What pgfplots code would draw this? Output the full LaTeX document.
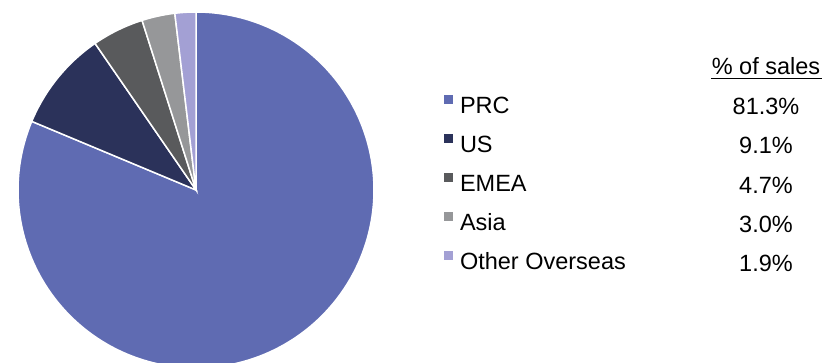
\documentclass[border=0pt]{standalone}
\usepackage{pgfplots}
\pgfplotsset{compat=1.18}
\usepackage{fontspec}
\setmainfont{Liberation Sans}
\definecolor{cPRC}{RGB}{95,107,178}
\definecolor{cUS}{RGB}{43,50,90}
\definecolor{cEMEA}{RGB}{89,90,92}
\definecolor{cAsia}{RGB}{150,151,153}
\definecolor{cOther}{RGB}{163,160,212}
% shares of sales (%)
\def\vPRC{81.3}
\def\vUS{9.1}
\def\vEMEA{4.7}
\def\vAsia{3.0}
\def\vOther{1.9}
\pgfmathsetmacro\aA{90-\vPRC*3.6}
\pgfmathsetmacro\aB{\aA-\vUS*3.6}
\pgfmathsetmacro\aC{\aB-\vEMEA*3.6}
\pgfmathsetmacro\aD{\aC-\vAsia*3.6}
\pgfmathsetmacro\aE{\aD-\vOther*3.6}
\begin{document}
\begin{tikzpicture}[x=1pt,y=1pt]
\useasboundingbox (0,0) rectangle (825,362);
\clip (0,0) rectangle (825,362);
\begin{axis}[
  at={(196pt,172pt)}, anchor=center,
  width=356pt, height=356pt, scale only axis,
  xmin=-1, xmax=1, ymin=-1, ymax=1,
  hide axis, clip=false,
  legend cell align=left,
  legend image code/.code={\fill[#1,draw=none] (0pt,3pt) rectangle (9.4pt,12.4pt);},
  legend style={at={(1.19663,0.7677)}, anchor=north west, draw=none, fill=none,
    inner sep=0pt, outer sep=0pt, row sep=15.7pt, column sep=6.6pt,
    font=\fontsize{23.5pt}{28pt}\selectfont,
    nodes={inner sep=0pt, outer sep=0pt, text height=17pt, text depth=5pt}},
]
\addplot[fill=cPRC, draw=white, line width=1.5pt, domain=\aA:90, samples=200] ({cos(x)},{sin(x)}) -- (0,0) -- cycle;
\addlegendentry{PRC}
\addplot[fill=cUS, draw=white, line width=1.5pt, domain=\aB:\aA, samples=40] ({cos(x)},{sin(x)}) -- (0,0) -- cycle;
\addlegendentry{US}
\addplot[fill=cEMEA, draw=white, line width=1.5pt, domain=\aC:\aB, samples=30] ({cos(x)},{sin(x)}) -- (0,0) -- cycle;
\addlegendentry{EMEA}
\addplot[fill=cAsia, draw=white, line width=1.5pt, domain=\aD:\aC, samples=30] ({cos(x)},{sin(x)}) -- (0,0) -- cycle;
\addlegendentry{Asia}
\addplot[fill=cOther, draw=white, line width=1.5pt, domain=\aE:\aD, samples=20] ({cos(x)},{sin(x)}) -- (0,0) -- cycle;
\addlegendentry{Other Overseas}
\end{axis}
\begin{scope}[font=\fontsize{23.5pt}{28pt}\selectfont]
\node[anchor=base, inner sep=0pt] at (766,287) {\% of sales};
\draw[line width=1.2pt] (711,283.5) -- (822,283.5);
\node[anchor=base, inner sep=0pt] at (766,247) {\vPRC\%};
\node[anchor=base, inner sep=0pt] at (766,208.7) {\vUS\%};
\node[anchor=base, inner sep=0pt] at (766,168.7) {\vEMEA\%};
\node[anchor=base, inner sep=0pt] at (766,129.3) {\vAsia\%};
\node[anchor=base, inner sep=0pt] at (766,90.3) {\vOther\%};
\end{scope}
\end{tikzpicture}
\end{document}
